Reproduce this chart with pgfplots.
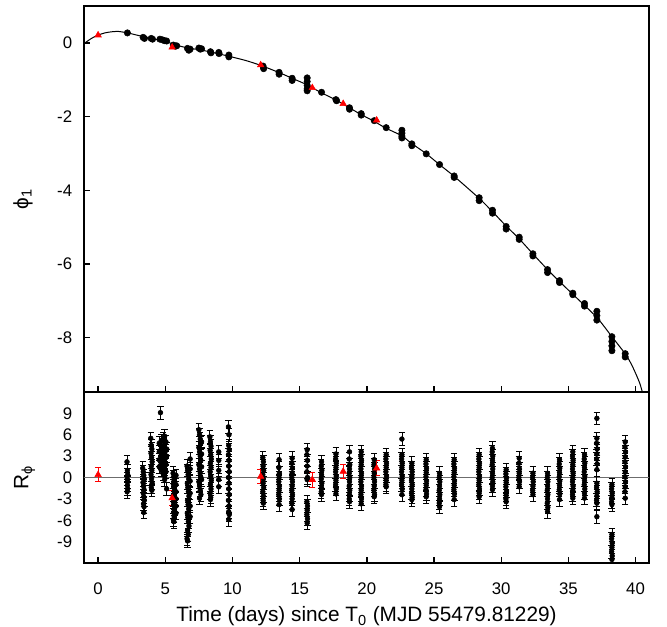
\documentclass[border=0pt]{standalone}
\usepackage{fontspec}
\setmainfont{Liberation Sans}
\usepackage{pgfplots}
\pgfplotsset{compat=1.18}

% fitted phase model
\newcommand{\model}{
(-1.2,-0.06) (-1.05,-0.02) (-0.5,0.12) (0,0.21) (0.5,0.27) (1.0,0.30) (1.5,0.31)
(2.2,0.27) (3.0,0.20) (4.0,0.11) (5.0,0.04) (5.8,-0.06) (6.7,-0.14) (7.6,-0.19)
(8.4,-0.25) (9.0,-0.30) (9.7,-0.36) (11.0,-0.48) (12.1,-0.61) (13.5,-0.81)
(14.5,-0.97) (15.5,-1.13) (16.6,-1.35) (17.7,-1.55) (18.7,-1.76) (19.5,-1.93)
(20.5,-2.12) (21.4,-2.31) (22.6,-2.52) (23.3,-2.72) (24.4,-3.00) (25.4,-3.30)
(26.5,-3.62) (28.4,-4.23) (29.3,-4.56) (30.4,-4.98) (31.3,-5.30) (32.4,-5.74)
(33.4,-6.13) (34.3,-6.46) (35.3,-6.81) (36.2,-7.12) (37.2,-7.48) (38.2,-7.95)
(39.3,-8.47) (39.8,-8.80) (40.3,-9.22) (40.6,-9.6) (40.8,-9.9)}

\pgfplotstableread[row sep=\\]{
t R \\
2.15 2.2 \\ 2.18 1.0 \\ 2.20 0.4 \\ 2.17 -0.2 \\ 2.19 -0.6 \\ 2.18 -1.1 \\ 2.20 -1.6 \\ 2.16 -2.0 \\
3.32 1.3 \\ 3.36 0.8 \\ 3.40 0.3 \\ 3.44 -0.2 \\ 3.34 -0.7 \\ 3.38 -1.2 \\ 3.42 -1.7 \\ 3.36 -2.2 \\
3.40 -2.7 \\ 3.44 -3.2 \\ 3.38 -3.7 \\ 3.42 -4.1 \\ 3.40 -4.9 \\
3.92 5.5 \\ 3.96 4.5 \\ 4.00 4.0 \\ 3.94 3.4 \\ 3.98 2.8 \\ 4.02 2.2 \\ 3.96 1.6 \\ 4.00 1.0 \\
3.94 0.4 \\ 3.98 -0.2 \\ 4.02 -0.8 \\ 3.96 -1.4 \\ 4.00 -1.8 \\
4.64 9.1 \\
4.55 4.8 \\ 4.55 3.6 \\ 4.55 2.5 \\ 4.55 1.5 \\ 4.70 5.2 \\ 4.70 4.0 \\ 4.70 3.0 \\ 4.70 2.0 \\
4.70 1.0 \\ 4.85 5.5 \\ 4.85 4.5 \\ 4.85 3.5 \\ 4.85 2.5 \\ 4.85 1.5 \\ 4.85 0.5 \\ 4.95 5.8 \\
4.95 4.2 \\ 4.95 3.2 \\ 4.95 2.2 \\ 4.95 1.2 \\ 4.95 0.2 \\ 4.95 -0.3 \\ 5.05 5.0 \\ 5.05 3.8 \\
5.05 2.8 \\ 5.05 1.8 \\ 5.05 0.8 \\ 5.10 4.0 \\ 5.10 3.0 \\ 5.10 -1.6 \\
5.58 0.6 \\ 5.62 0.1 \\ 5.66 -0.4 \\ 5.60 -0.9 \\ 5.64 -1.4 \\ 5.68 -1.9 \\ 5.62 -2.4 \\ 5.66 -2.9 \\
5.60 -3.4 \\ 5.64 -3.9 \\ 5.68 -4.4 \\ 5.62 -4.9 \\ 5.66 -5.4 \\ 5.60 -5.9 \\ 5.64 -6.2 \\
5.80 0.3 \\ 5.80 -1.0 \\ 5.80 -2.0 \\ 5.80 -3.0 \\ 5.80 -4.0 \\ 5.80 -5.0 \\
6.62 1.6 \\ 6.66 1.0 \\ 6.70 0.4 \\ 6.74 -0.2 \\ 6.64 -0.8 \\ 6.68 -1.4 \\ 6.72 -2.0 \\ 6.76 -2.6 \\
6.66 -3.2 \\ 6.70 -3.8 \\ 6.74 -4.4 \\ 6.64 -5.0 \\ 6.68 -5.6 \\ 6.72 -6.2 \\ 6.76 -6.8 \\ 6.66 -7.4 \\
6.70 -8.0 \\ 6.62 -8.6 \\ 6.66 -8.9 \\ 6.85 2.6 \\ 6.85 1.2 \\ 6.85 -0.5 \\ 6.85 -2.2 \\ 6.85 -4.0 \\ 6.85 -5.5 \\
7.50 6.7 \\ 7.55 6.0 \\ 7.60 5.4 \\ 7.65 4.8 \\ 7.50 4.2 \\ 7.55 3.6 \\ 7.60 3.0 \\ 7.65 2.4 \\
7.50 1.8 \\ 7.55 1.2 \\ 7.60 0.6 \\ 7.65 0.0 \\ 7.50 -0.6 \\ 7.55 -1.2 \\ 7.60 -1.8 \\ 7.65 -2.4 \\
7.55 -2.9 \\ 7.70 5.0 \\ 7.70 3.3 \\ 7.70 1.5 \\ 7.70 -0.3 \\
8.32 5.7 \\ 8.36 5.0 \\ 8.40 4.4 \\ 8.34 3.8 \\ 8.38 3.2 \\ 8.42 2.6 \\ 8.36 2.0 \\ 8.40 1.4 \\
8.34 0.8 \\ 8.38 0.2 \\ 8.42 -0.4 \\ 8.36 -1.0 \\ 8.40 -1.6 \\ 8.34 -2.2 \\ 8.38 -2.8 \\ 8.36 -3.1 \\
8.98 3.6 \\ 8.98 2.4 \\ 8.98 1.0 \\ 8.98 -0.3 \\ 8.98 -1.3 \\
9.70 7.1 \\ 9.74 6.0 \\ 9.72 4.5 \\ 9.76 3.9 \\ 9.70 3.2 \\ 9.74 2.4 \\ 9.72 1.6 \\ 9.76 0.8 \\
9.70 0.0 \\ 9.74 -0.8 \\ 9.72 -1.6 \\ 9.76 -2.4 \\ 9.70 -3.2 \\ 9.74 -4.0 \\ 9.72 -4.8 \\ 9.76 -5.2 \\ 9.72 -5.9 \\
12.26 2.8 \\ 12.30 2.2 \\ 12.28 1.6 \\ 12.32 1.0 \\ 12.26 0.4 \\ 12.30 -0.2 \\ 12.28 -0.8 \\
12.32 -1.4 \\ 12.26 -2.0 \\ 12.30 -2.6 \\ 12.28 -3.2 \\ 12.30 -3.6 \\
13.47 2.5 \\ 13.45 1.4 \\ 13.49 0.6 \\ 13.47 0.0 \\ 13.45 -0.6 \\ 13.49 -1.2 \\ 13.47 -1.8 \\
13.45 -2.4 \\ 13.49 -3.0 \\ 13.47 -3.8 \\
14.44 2.7 \\ 14.42 2.0 \\ 14.46 1.3 \\ 14.44 0.6 \\ 14.42 0.0 \\ 14.46 -0.6 \\ 14.44 -1.2 \\
14.42 -1.8 \\ 14.46 -2.4 \\ 14.44 -3.0 \\ 14.42 -3.6 \\ 14.44 -4.5 \\
15.56 3.9 \\ 15.54 3.2 \\ 15.58 2.4 \\ 15.56 1.6 \\ 15.54 0.8 \\ 15.58 0.0 \\ 15.56 -0.3 \\
15.54 -3.4 \\ 15.58 -4.0 \\ 15.56 -4.6 \\ 15.54 -5.2 \\ 15.58 -5.8 \\ 15.56 -6.4 \\
16.63 2.2 \\ 16.61 1.6 \\ 16.65 1.0 \\ 16.63 0.4 \\ 16.61 -0.2 \\ 16.65 -0.8 \\ 16.63 -1.4 \\
16.61 -2.0 \\ 16.63 -2.4 \\
17.70 3.3 \\ 17.68 2.6 \\ 17.72 2.0 \\ 17.70 1.4 \\ 17.68 0.8 \\ 17.72 0.2 \\ 17.70 -0.4 \\
17.68 -1.0 \\ 17.72 -1.6 \\ 17.70 -2.3 \\
18.71 3.6 \\ 18.69 2.6 \\ 18.73 1.8 \\ 18.71 1.2 \\ 18.69 0.6 \\ 18.73 0.0 \\ 18.71 -0.6 \\
18.69 -1.2 \\ 18.73 -1.8 \\ 18.71 -2.4 \\ 18.69 -3.0 \\ 18.71 -3.4 \\
19.58 3.6 \\ 19.56 3.0 \\ 19.60 2.4 \\ 19.58 1.8 \\ 19.56 1.2 \\ 19.60 0.6 \\ 19.58 0.0 \\
19.56 -0.6 \\ 19.60 -1.2 \\ 19.58 -1.8 \\ 19.56 -2.4 \\ 19.60 -3.0 \\ 19.58 -3.7 \\
20.55 2.5 \\ 20.53 1.8 \\ 20.57 1.2 \\ 20.55 0.6 \\ 20.53 0.0 \\ 20.57 -0.6 \\ 20.55 -1.2 \\
20.53 -1.8 \\ 20.57 -2.4 \\ 20.55 -2.7 \\
21.44 3.2 \\ 21.42 2.6 \\ 21.46 2.0 \\ 21.44 1.4 \\ 21.42 0.8 \\ 21.46 0.2 \\ 21.44 -0.4 \\
21.42 -1.0 \\ 21.44 -1.3 \\
22.61 5.4 \\ 22.61 3.2 \\ 22.59 2.6 \\ 22.63 2.0 \\ 22.61 1.4 \\ 22.59 0.8 \\ 22.63 0.2 \\
22.61 -0.4 \\ 22.59 -1.0 \\ 22.63 -1.6 \\ 22.61 -2.4 \\
23.35 2.0 \\ 23.33 1.4 \\ 23.37 0.8 \\ 23.35 0.2 \\ 23.33 -0.4 \\ 23.37 -1.0 \\ 23.35 -1.6 \\
23.33 -2.2 \\ 23.37 -2.8 \\ 23.35 -3.1 \\
24.42 2.5 \\ 24.40 1.9 \\ 24.44 1.3 \\ 24.42 0.7 \\ 24.40 0.1 \\ 24.44 -0.5 \\ 24.42 -1.1 \\
24.40 -1.7 \\ 24.44 -2.3 \\ 24.42 -2.7 \\
25.41 0.6 \\ 25.39 0.0 \\ 25.43 -0.6 \\ 25.41 -1.2 \\ 25.39 -1.8 \\ 25.43 -2.4 \\ 25.41 -3.0 \\
25.39 -3.6 \\ 25.41 -4.1 \\
26.50 2.5 \\ 26.48 1.9 \\ 26.52 1.3 \\ 26.50 0.7 \\ 26.48 0.1 \\ 26.52 -0.5 \\ 26.50 -1.1 \\
26.48 -1.7 \\ 26.52 -2.3 \\ 26.50 -3.1 \\
28.36 3.2 \\ 28.34 2.6 \\ 28.38 2.0 \\ 28.36 1.4 \\ 28.34 0.8 \\ 28.38 0.2 \\ 28.36 -0.4 \\
28.34 -1.0 \\ 28.38 -1.6 \\ 28.36 -2.2 \\ 28.36 -2.7 \\
29.35 4.1 \\ 29.33 3.6 \\ 29.37 3.0 \\ 29.35 2.4 \\ 29.33 1.8 \\ 29.37 1.2 \\ 29.35 0.6 \\
29.33 0.0 \\ 29.37 -0.6 \\ 29.35 -1.2 \\ 29.35 -1.7 \\
30.37 1.1 \\ 30.35 0.5 \\ 30.39 -0.1 \\ 30.37 -0.7 \\ 30.35 -1.3 \\ 30.39 -1.9 \\ 30.37 -2.5 \\
30.35 -3.0 \\ 30.37 -3.4 \\
31.34 2.7 \\ 31.32 2.0 \\ 31.36 1.2 \\ 31.34 0.6 \\ 31.32 0.0 \\ 31.36 -0.6 \\ 31.34 -1.3 \\
32.36 0.6 \\ 32.34 0.0 \\ 32.38 -0.6 \\ 32.36 -1.2 \\ 32.34 -1.8 \\ 32.36 -2.4 \\
33.45 0.6 \\ 33.43 0.0 \\ 33.47 -0.6 \\ 33.45 -1.2 \\ 33.43 -1.8 \\ 33.47 -2.4 \\ 33.45 -3.0 \\
33.43 -3.6 \\ 33.47 -4.2 \\ 33.45 -4.8 \\
34.34 2.5 \\ 34.32 1.9 \\ 34.36 1.3 \\ 34.34 0.7 \\ 34.32 0.1 \\ 34.36 -0.5 \\ 34.34 -1.1 \\
34.32 -1.7 \\ 34.36 -2.3 \\ 34.34 -3.1 \\
35.33 3.6 \\ 35.31 3.0 \\ 35.35 2.4 \\ 35.33 1.8 \\ 35.31 1.2 \\ 35.35 0.6 \\ 35.33 0.0 \\
35.31 -0.6 \\ 35.35 -1.2 \\ 35.33 -1.8 \\ 35.31 -2.4 \\ 35.33 -2.9 \\
36.20 3.2 \\ 36.18 2.6 \\ 36.22 2.0 \\ 36.20 1.4 \\ 36.18 0.8 \\ 36.22 0.2 \\ 36.20 -0.4 \\
36.18 -1.0 \\ 36.22 -1.6 \\ 36.20 -2.2 \\ 36.20 -2.9 \\
37.12 8.3 \\ 37.12 5.5 \\ 37.10 4.8 \\ 37.14 4.0 \\ 37.12 3.3 \\ 37.10 2.6 \\ 37.14 1.9 \\ 37.12 1.1 \\
37.12 -0.8 \\ 37.10 -1.4 \\ 37.14 -2.0 \\ 37.12 -2.6 \\ 37.10 -3.2 \\ 37.12 -3.6 \\ 37.12 -5.5 \\
38.24 -1.0 \\ 38.22 -1.6 \\ 38.26 -2.2 \\ 38.24 -2.8 \\ 38.22 -3.4 \\ 38.24 -3.8 \\
38.24 -8.0 \\ 38.22 -8.6 \\ 38.26 -9.2 \\ 38.24 -9.8 \\ 38.22 -10.4 \\ 38.26 -11.0 \\ 38.24 -11.5 \\
39.23 5.0 \\ 39.21 4.3 \\ 39.25 3.6 \\ 39.23 2.9 \\ 39.21 2.2 \\ 39.25 1.5 \\ 39.23 0.8 \\
39.21 0.1 \\ 39.25 -0.6 \\ 39.23 -1.3 \\ 39.21 -2.0 \\ 39.23 -2.9 \\
}\resid

\pgfplotstableread[row sep=\\]{
t R e \\
0.00 0.38 1.0 \\ 5.51 -2.88 1.05 \\ 12.10 0.14 1.0 \\ 15.94 -0.30 1.05 \\ 18.24 0.84 1.0 \\ 20.73 1.30 1.05 \\
}\residred

\pgfplotsset{
  panel/.style={
    scale only axis, width=423.75pt,
    xmin=-1.05, xmax=41,
    axis line style={line width=1.3pt},
    tick align=inside, major tick length=4.3pt,
    every tick/.style={black, line width=1pt},
    xtick={0,5,...,40}, xtick pos=bottom, ytick pos=left,
    tick label style={font=\fontsize{12.6}{15}\selectfont},
    label style={font=\fontsize{15.6}{18}\selectfont},
    yticklabel style={anchor=east, inner sep=0pt, xshift=-8.7pt},
    ylabel style={at={(axis description cs:-0.0986,0.5)}, anchor=base},
  },
}

\begin{document}
\begin{tikzpicture}
\useasboundingbox (-63pt,4.5pt) rectangle (437.25pt,-465.75pt);

\begin{axis}[panel, name=top,
  at={(0pt,0pt)}, anchor=north west,
  height=289.5pt,
  ymin=-9.47, ymax=1.0,
  ytick={-8,-6,-4,-2,0}, yticklabels={-8,-6,-4,-2,0},
  xticklabels={},
  ylabel={ϕ\textsubscript{1}},
]
\addplot[black, line width=0.75pt, smooth, tension=0.4] coordinates {\model};
\addplot[only marks, mark=*, mark size=2.4pt, black] coordinates {
(2.18,0.27) (3.35,0.15) (3.45,0.12) (3.95,0.12) (4.05,0.10)
(4.6,0.10) (4.8,0.08) (4.95,0.06) (5.1,0.05)
(5.6,-0.06) (5.75,-0.09) (5.85,-0.08)
(6.65,-0.15) (6.75,-0.20) (6.85,-0.17)
(7.5,-0.14) (7.6,-0.17) (7.7,-0.16)
(8.36,-0.24) (8.40,-0.27) (8.98,-0.26) (9.0,-0.29) (9.73,-0.33) (9.73,-0.38)
(12.28,-0.63) (12.32,-0.70) (13.47,-0.80) (13.47,-0.85) (14.44,-0.96) (14.44,-1.02)
(15.56,-0.95) (15.56,-1.05) (15.56,-1.15) (15.56,-1.25) (15.56,-1.30)
(16.63,-1.34) (17.70,-1.54) (17.75,-1.57) (18.71,-1.76) (18.71,-1.80)
(19.58,-1.92) (19.58,-1.96) (20.55,-2.11) (21.44,-2.30)
(22.61,-2.37) (22.61,-2.45) (22.61,-2.53) (22.61,-2.58)
(23.35,-2.74) (23.35,-2.79) (24.42,-3.01) (25.41,-3.30) (26.50,-3.61) (26.50,-3.65)
(28.36,-4.20) (28.36,-4.28) (29.35,-4.54) (29.35,-4.62) (30.37,-4.98) (30.37,-5.05)
(31.34,-5.27) (31.34,-5.33) (32.36,-5.72) (32.36,-5.78) (33.45,-6.15) (33.45,-6.23)
(34.34,-6.45) (34.34,-6.50) (35.33,-6.79) (35.33,-6.83) (36.20,-7.07) (36.20,-7.14)
(37.12,-7.28) (37.12,-7.40) (37.12,-7.52)
(38.24,-7.97) (38.24,-8.10) (38.24,-8.22) (38.24,-8.35)
(39.23,-8.43) (39.23,-8.52)};
\addplot[only marks, mark=triangle*, mark size=2.8pt, red] coordinates {
(0,0.21) (5.51,-0.12) (12.1,-0.60) (15.94,-1.22) (18.24,-1.65) (20.73,-2.10)};
\end{axis}

\begin{axis}[panel, name=bot,
  at={(0pt,-289.5pt)}, anchor=north west,
  height=128.25pt,
  ymin=-12, ymax=12,
  ytick={-9,-6,-3,0,3,6,9}, yticklabels={-9,-6,-3,0,3,6,9},
  ytick style={draw=none},
  xticklabels={0,5,10,15,20,25,30,35,40},
  xticklabel style={anchor=base, yshift=-23.3pt},
  xlabel={Time (days) since T\textsubscript{0} (MJD 55479.81229)},
  xlabel style={at={(axis description cs:0.5,0)}, anchor=base, yshift=-44pt},
  ylabel={R\textsubscript{ϕ}},
]
\addplot[gray!85!black, line width=1pt] coordinates {(-2,0) (42,0)};
\addplot[only marks, mark=*, mark size=1.8pt, black,
  error bars/.cd, y dir=both, y fixed=0.9,
  error bar style={line width=0.6pt},
  error mark options={rotate=90, mark size=2.4pt, line width=0.6pt}]
  table[x=t, y=R] {\resid};
\addplot[only marks, mark=triangle*, mark size=2.8pt, red,
  error bars/.cd, y dir=both, y explicit,
  error bar style={line width=0.7pt},
  error mark options={rotate=90, mark size=2.4pt, line width=0.7pt}]
  table[x=t, y=R, y error=e] {\residred};
\end{axis}
\end{tikzpicture}
\end{document}
